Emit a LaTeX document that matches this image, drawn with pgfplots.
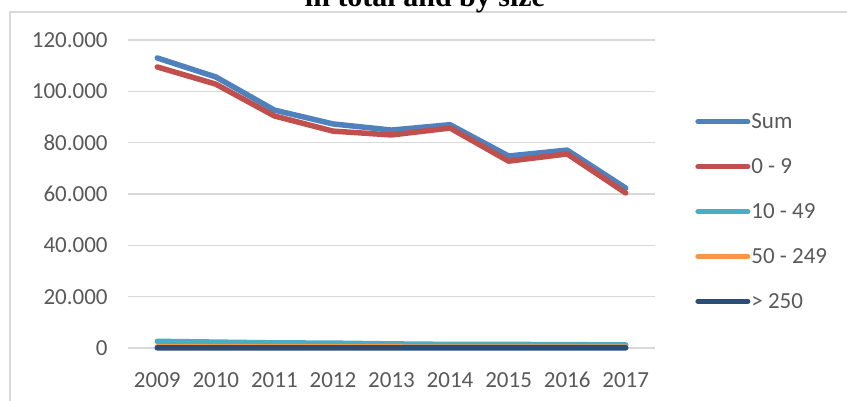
\documentclass[border=0pt]{standalone}
\usepackage{fontspec}
\setmainfont{Carlito}
\newfontfamily\titlefont{Liberation Serif}
\usepackage{pgfplots}
\pgfplotsset{compat=1.18}
\definecolor{cSum}{HTML}{4F81BD}
\definecolor{cA}{HTML}{C0504D}
\definecolor{cB}{HTML}{4BACC6}
\definecolor{cC}{HTML}{F79646}
\definecolor{cD}{HTML}{2C4D75}
\definecolor{cGrid}{HTML}{D9D9D9}
\definecolor{cTxt}{HTML}{595959}
\begin{document}
\begin{tikzpicture}[x=1pt,y=1pt]
\begin{axis}[
  at={(64pt,26.5pt)}, anchor=south west,
  scale only axis, width=263.5pt, height=154pt,
  xmin=2008.5, xmax=2017.5, ymin=0, ymax=120000,
  scaled y ticks=false,
  xtick={2009,2010,2011,2012,2013,2014,2015,2016,2017},
  xticklabels={2009,2010,2011,2012,2013,2014,2015,2016,2017},
  ytick={0,20000,40000,60000,80000,100000,120000},
  yticklabels={0,20.000,40.000,60.000,80.000,100.000,120.000},
  axis line style={draw=none}, major tick length=0pt,
  ymajorgrids, grid style={draw=cGrid, line width=0.6pt},
  ticklabel style={font=\fontsize{11.5}{13}\selectfont, text=cTxt, inner sep=0pt},
  xticklabel style={anchor=north, yshift=-12pt},
  yticklabel style={anchor=east, xshift=-10pt},
  clip=false,
  legend style={at={(1,0.5)}, anchor=west, xshift=20pt, yshift=-8pt,
    draw=none, fill=none, inner sep=0pt, row sep=8.95pt,
    font=\fontsize{11.5}{13}\selectfont, text=cTxt,
    nodes={inner sep=0.5pt, text height=8pt, text depth=2pt},
    cells={anchor=west}},
  legend image code/.code={\path[draw=none, fill=none] (0pt,-2pt) rectangle (25pt,8pt);
    \draw[#1, line width=2.5pt, line cap=round] (0pt,0.5pt) -- (25pt,0.5pt);},
  every axis plot/.append style={line width=2.75pt, line join=round, line cap=round, mark=none},
]
\addplot[cSum] coordinates {(2009,113000) (2010,105600) (2011,92700) (2012,87300) (2013,84900) (2014,87000) (2015,74800) (2016,77100) (2017,62300)};
\addlegendentry{Sum}
\addplot[cA] coordinates {(2009,109500) (2010,102800) (2011,90400) (2012,84500) (2013,83000) (2014,85700) (2015,72800) (2016,75600) (2017,60400)};
\addlegendentry{0 - 9}
\addplot[cB] coordinates {(2009,2600) (2010,2300) (2011,2000) (2012,1900) (2013,1600) (2014,1400) (2015,1400) (2016,1300) (2017,1200)};
\addlegendentry{10 - 49}
\addplot[cC] coordinates {(2009,450) (2010,430) (2011,410) (2012,400) (2013,390) (2014,380) (2015,370) (2016,360) (2017,350)};
\addlegendentry{50 - 249}
\addplot[cD] coordinates {(2009,80) (2010,80) (2011,75) (2012,75) (2013,70) (2014,70) (2015,70) (2016,65) (2017,65)};
\addlegendentry{> 250}
\end{axis}
\draw[cGrid, line width=0.7pt] (5,0) -- (5,194.5) -- (423.5,194.5);
\node[anchor=base, inner sep=0pt, font=\titlefont\bfseries\fontsize{15}{18}\selectfont] at (212.5,197) {in total and by size};
\pgfresetboundingbox
\useasboundingbox (0,0) rectangle (423.5,200.5);
\end{tikzpicture}
\end{document}
